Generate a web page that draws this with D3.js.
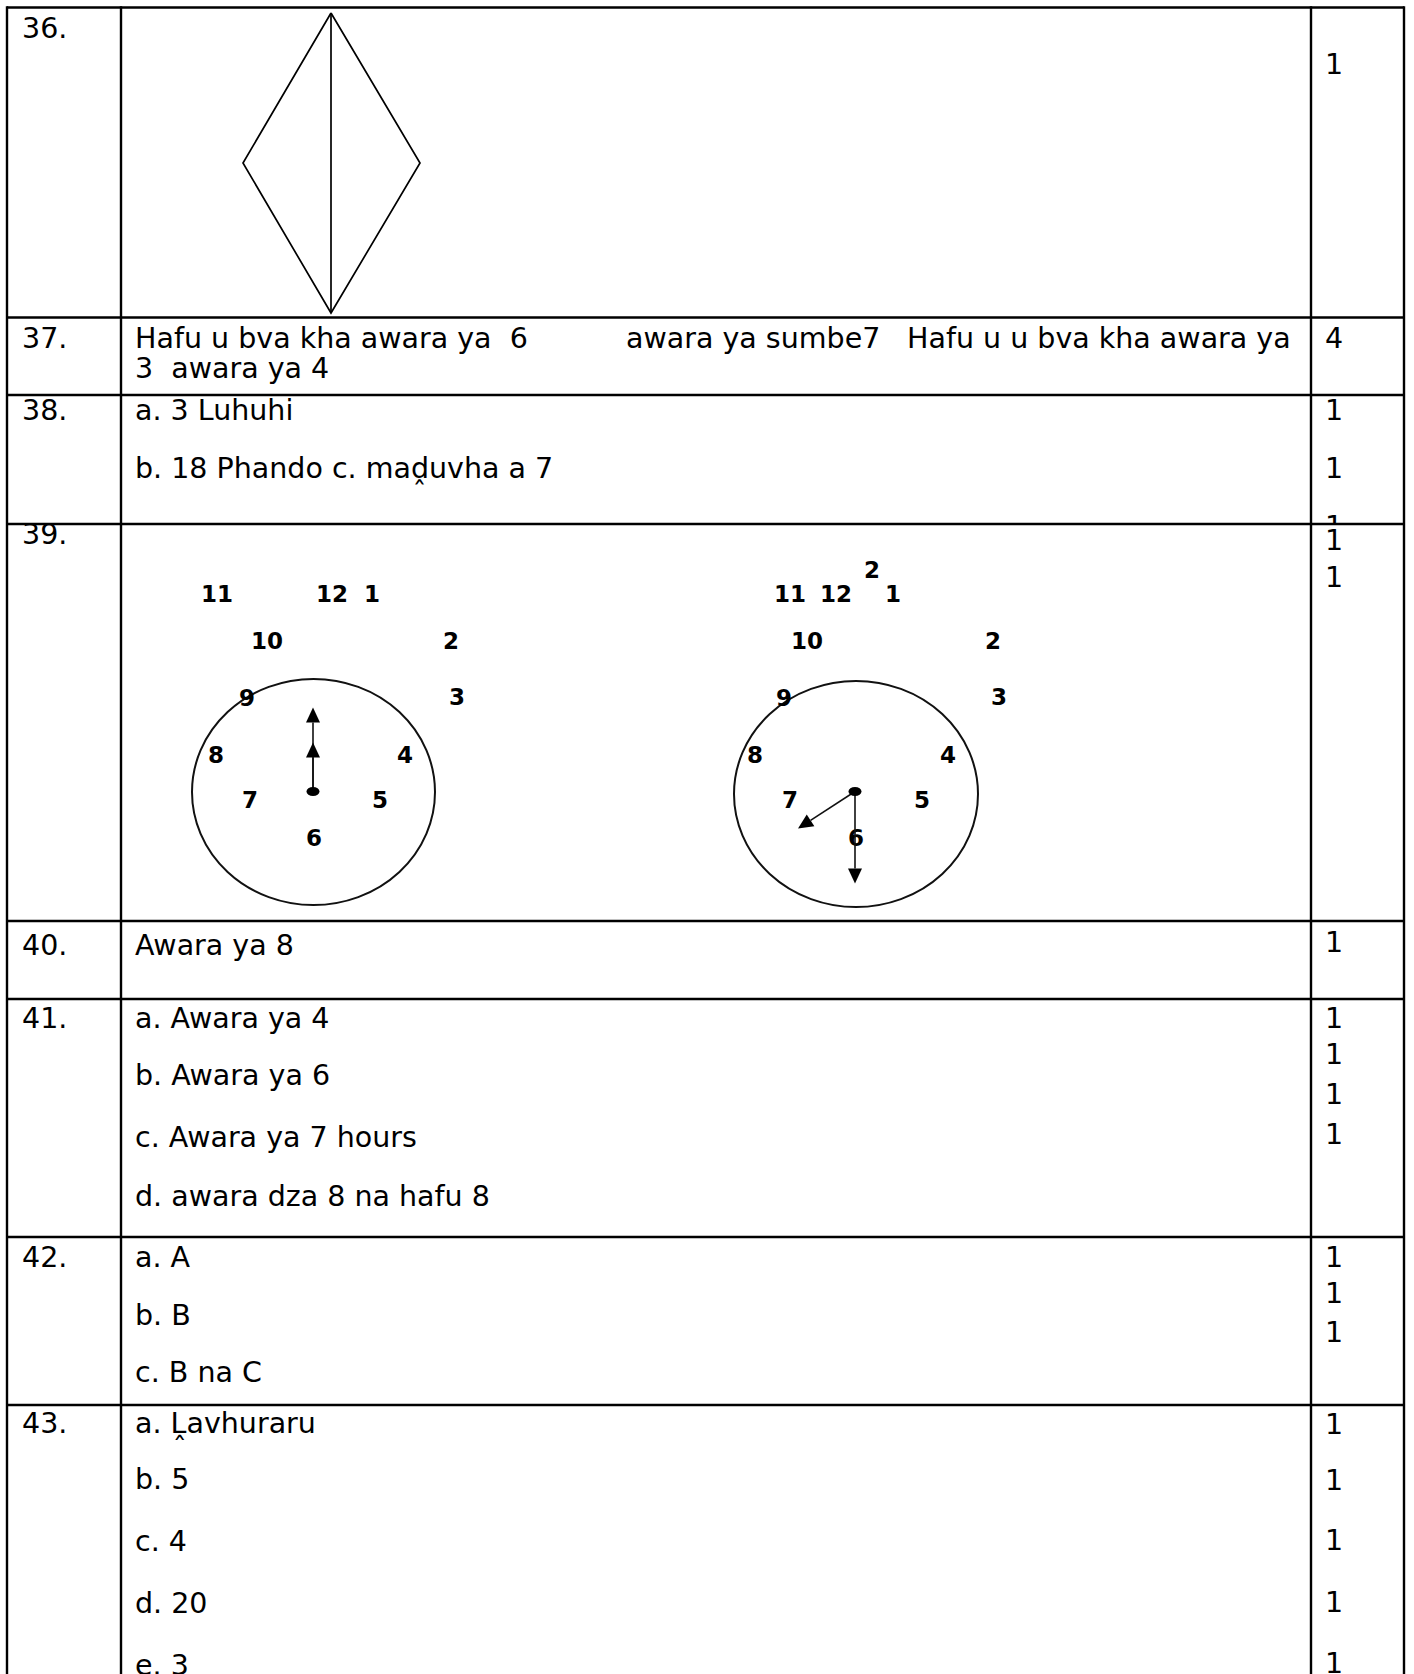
<!DOCTYPE html>
<html>
<head>
<meta charset="utf-8">
<script src="https://cdn.jsdelivr.net/npm/d3@7"></script>
<style>
  body { margin: 0; background: #fff; }
  svg { display: block; }
  text { font-family: 'DejaVu Sans', sans-serif; white-space: pre; fill: #000; }
</style>
</head>
<body>
<svg id="page"></svg>
<script>
// ---- content ----
var questionNums = ['36.', '37.', '38.', '39.', '40.', '41.', '42.', '43.'];

var answerLines = [
	['Hafu u bva kha awara ya  6', 'awara ya sumbe7', 'Hafu u u bva kha awara ya'],
	['3  awara ya 4'],
	['a. 3 Luhuhi'],
	['b. 18 Phando c. ma\u1E13uvha a 7'],
	['Awara ya 8'],
	['a. Awara ya 4'],
	['b. Awara ya 6'],
	['c. Awara ya 7 hours'],
	['d. awara dza 8 na hafu 8'],
	['a. A'],
	['b. B'],
	['c. B na C'],
	['a. \u1E3Cavhuraru'],
	['b. 5'],
	['c. 4'],
	['d. 20'],
	['e. 3']
];

var marks = ['1', '4', '1', '1', '1', '1', '1', '1', '1', '1', '1', '1', '1', '1', '1', '1', '1', '1', '1', '1'];

// kite drawn in question 36 (vertex points, in drawing units)
var kitePoints = [[0, 0], [-88, 150], [0, 300], [89, 150], [0, 0]];

// clocks in question 39: dial labels and hand positions (dial hour, length)
var clock1Labels = ['11', '12', '1', '10', '2', '3', '9', '8', '4', '7', '5', '6'];
var clock2Labels = ['2', '11', '12', '1', '10', '2', '3', '9', '8', '4', '7', '5', '6'];
var clock1Hands = [{dial: 12, len: 84}, {dial: 12, len: 49}];
var clock2Hands = [{dial: 6, len: 92}, {dial: 7.9, len: 68}];

// ---- layout ----
var W = 1414, H = 1674;
var colX = [7, 121, 1311, 1404];
var rowY = [7.5, 317.5, 395, 524, 921, 999, 1237, 1405, 1720];
var qBase = [37.5, 348, 420, 544, 955, 1028, 1267, 1433];
var ansBase = [348, 378, 420, 478, 955, 1028, 1085, 1147, 1206, 1267, 1325, 1382, 1433, 1489, 1551, 1613, 1675];
var ansX = [[135, 626, 907]];
var markBase = [74, 348, 420, 478, 536, 550, 587, 952, 1028, 1064, 1104, 1144, 1267, 1303, 1342, 1434, 1490, 1550, 1612, 1673];
var fs = 28.5;

var clock1Pos = [[217, 594], [332, 594], [372, 594], [267, 641], [451, 641], [457, 697], [247, 698], [216, 755], [405, 755], [250, 800], [380, 800], [314, 838]];
var clock2Pos = [[872, 570], [790, 594], [836, 594], [893, 594], [807, 641], [993, 641], [999, 697], [784, 698], [755, 755], [948, 755], [790, 800], [922, 800], [856, 838]];

var svg = d3.select('#page').attr('width', W).attr('height', H);
svg.append('rect').attr('width', W).attr('height', H).attr('fill', '#fff');

// ---- table grid ----
var grid = svg.append('g').attr('stroke', '#000').attr('stroke-width', 2.4);
rowY.slice(0, -1).forEach(function (y) {
	grid.append('line').attr('x1', colX[0]).attr('x2', colX[3]).attr('y1', y).attr('y2', y);
});
colX.forEach(function (x) {
	grid.append('line').attr('x1', x).attr('x2', x).attr('y1', rowY[0] - 1.2).attr('y2', H);
});

// ---- question numbers ----
svg.append('g').selectAll('text')
	.data(questionNums).enter()
	.append('text')
		.attr('x', 22)
		.attr('y', function (d, i) {return qBase[i];})
		.attr('font-size', fs)
		.text(function (d) {return d;});

// ---- answers ----
var ans = svg.append('g');
answerLines.forEach(function (parts, i) {
	parts.forEach(function (p, j) {
		ans.append('text')
			.attr('x', ansX[i] ? ansX[i][j] : 135)
			.attr('y', ansBase[i])
			.attr('font-size', fs)
			.text(p);
	});
});

// ---- marks (third mark of 38 is cut by the row line, as in the scan) ----
var defs = svg.append('defs');
defs.append('clipPath').attr('id', 'markClip')
	.append('rect').attr('x', colX[2]).attr('y', rowY[2]).attr('width', colX[3] - colX[2]).attr('height', rowY[3] - rowY[2]);

svg.append('g').selectAll('text')
	.data(marks).enter()
	.append('text')
		.attr('x', 1325)
		.attr('y', function (d, i) {return markBase[i];})
		.attr('font-size', fs)
		.attr('clip-path', function (d, i) {return i === 4 ? 'url(#markClip)' : null;})
		.text(function (d) {return d;});

// ---- kite ----
var kx = d3.scaleLinear().domain([0, 1]).range([331, 332]);
var ky = d3.scaleLinear().domain([0, 300]).range([13, 313]);
var kite = svg.append('g').attr('fill', 'none').attr('stroke', '#000').attr('stroke-width', 1.7);
kite.append('path')
	.attr('d', d3.line().x(function (d) {return kx(d[0]);}).y(function (d) {return ky(d[1]);})(kitePoints));
kite.append('line')
	.attr('x1', kx(0)).attr('y1', ky(0)).attr('x2', kx(0)).attr('y2', ky(300));

// ---- clocks ----
var angle = d3.scaleLinear().domain([0, 12]).range([0, 2 * Math.PI]);

var drawClock = function (cx, cy, rx, ry, labels, pos, hands, hub) {
	var g = svg.append('g');
	g.append('ellipse')
		.attr('cx', cx).attr('cy', cy).attr('rx', rx).attr('ry', ry)
		.attr('fill', 'none').attr('stroke', '#111').attr('stroke-width', 2);

	g.selectAll('text.num')
		.data(labels).enter()
		.append('text')
			.attr('class', 'num')
			.attr('x', function (d, i) {return pos[i][0];})
			.attr('y', function (d, i) {return pos[i][1];})
			.attr('dy', '0.36em')
			.attr('text-anchor', 'middle')
			.attr('font-size', 23)
			.attr('font-weight', 'bold')
			.text(function (d) {return d;});

	hands.forEach(function (h) {
		var a = angle(h.dial % 12),
			ux = Math.sin(a), uy = -Math.cos(a),
			tx = hub[0] + ux * h.len, ty = hub[1] + uy * h.len,
			bx = tx - ux * 15, by = ty - uy * 15,
			px = -uy * 7, py = ux * 7;
		g.append('line')
			.attr('x1', hub[0]).attr('y1', hub[1]).attr('x2', bx).attr('y2', by)
			.attr('stroke', '#111').attr('stroke-width', 1.6);
		g.append('path')
			.attr('d', 'M' + tx + ',' + ty + 'L' + (bx + px) + ',' + (by + py) + 'L' + (bx - px) + ',' + (by - py) + 'Z')
			.attr('fill', '#000');
	});

	g.append('ellipse')
		.attr('cx', hub[0]).attr('cy', hub[1]).attr('rx', 6.5).attr('ry', 4.5)
		.attr('fill', '#000');
};

drawClock(313.5, 792, 121.5, 113, clock1Labels, clock1Pos, clock1Hands, [313, 791.5]);
drawClock(856, 794, 122, 113, clock2Labels, clock2Pos, clock2Hands, [855, 791.5]);
</script>
</body>
</html>
